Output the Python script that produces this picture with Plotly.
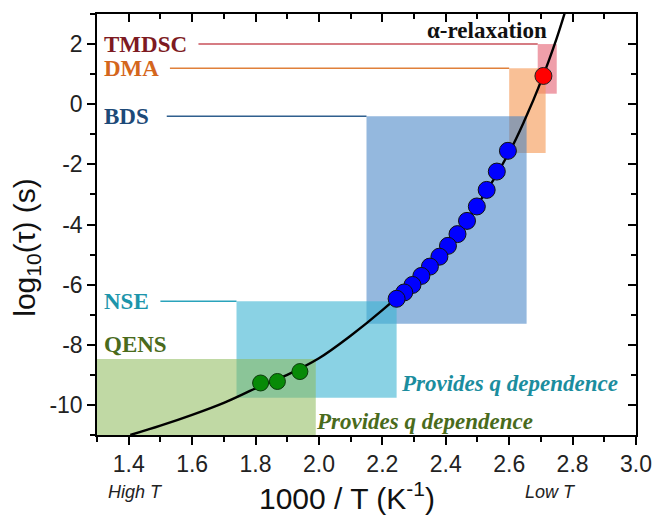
import plotly.graph_objects as go

# ---------------- data ----------------
# measurement windows (1000/T range and log10(tau) range)
techniques = ["TMDSC", "DMA", "BDS", "NSE", "QENS"]
win_x0 = [2.69, 2.60, 2.15, 1.74, 1.30]
win_x1 = [2.75, 2.715, 2.655, 2.245, 1.99]
win_y0 = [0.35, -1.62, -7.3, -9.76, -11.0]
win_y1 = [2.0, 1.2, -0.4, -6.55, -8.47]

# alpha-relaxation data
bds_x = [2.596, 2.561, 2.529, 2.498, 2.467, 2.437, 2.407, 2.380, 2.350, 2.323, 2.295, 2.269, 2.245]
bds_y = [-1.55, -2.24, -2.85, -3.40, -3.88, -4.32, -4.71, -5.07, -5.40, -5.71, -6.01, -6.26, -6.47]
qens_x = [1.816, 1.869, 1.940]
qens_y = [-9.27, -9.22, -8.89]
dma_x = [2.708]
dma_y = [0.94]

# fitted curve
curve_x = [1.405, 1.5, 1.6, 1.7, 1.8, 1.9, 2.0, 2.1, 2.2, 2.3, 2.4, 2.5, 2.6, 2.65, 2.7, 2.75, 2.78]
curve_y = [-11.0, -10.69, -10.33, -9.93, -9.45, -9.0, -8.45, -7.7, -6.85, -5.9, -4.75, -3.35, -1.6, -0.5, 0.75, 2.2, 3.2]

x_ticks = [1.4, 1.6, 1.8, 2.0, 2.2, 2.4, 2.6, 2.8, 3.0]
y_ticks = [2, 0, -2, -4, -6, -8, -10]

# ---------------- styles ----------------
fill_col = {
    "TMDSC": "rgba(225,80,100,0.55)",
    "DMA": "rgba(245,150,80,0.6)",
    "BDS": "rgba(60,125,195,0.55)",
    "NSE": "rgba(60,180,210,0.6)",
    "QENS": "rgba(140,185,90,0.55)",
}
text_col = {
    "TMDSC": "#7d1a22",
    "DMA": "#d4661c",
    "BDS": "#1d4a78",
    "NSE": "#1d95ab",
    "QENS": "#4a6b1c",
}
line_col = {
    "TMDSC": "#c8505a",
    "DMA": "#e0803a",
    "BDS": "#2f5f8e",
    "NSE": "#2aa3bb",
}
leader_start = {"TMDSC": 1.62, "DMA": 1.53, "BDS": 1.52, "NSE": 1.50}
label_yshift = {"TMDSC": 0, "DMA": 0, "BDS": 0, "NSE": 0, "QENS": 14}

serif = "Liberation Serif, Times New Roman, serif"
sans = "Liberation Sans, Arial, sans-serif"

fig = go.Figure()

shapes = []
for name, x0, x1, y0, y1 in zip(techniques, win_x0, win_x1, win_y0, win_y1):
    shapes.append(dict(type="rect", xref="x", yref="y", x0=x0, x1=x1, y0=y0, y1=y1,
                       fillcolor=fill_col[name], line=dict(width=0), layer="below"))
    if name in leader_start:
        shapes.append(dict(type="line", xref="x", yref="y", x0=leader_start[name], x1=x0,
                           y0=y1, y1=y1, line=dict(color=line_col[name], width=1.5), layer="below"))

fig.add_trace(go.Scatter(x=curve_x, y=curve_y, mode="lines", line=dict(color="black", width=2.4, shape="spline"),
                         showlegend=False, hoverinfo="skip"))
fig.add_trace(go.Scatter(x=bds_x, y=bds_y, mode="markers",
                         marker=dict(size=17, color="#0000ff", line=dict(color="#111111", width=1)),
                         showlegend=False))
fig.add_trace(go.Scatter(x=qens_x, y=qens_y, mode="markers",
                         marker=dict(size=16, color="#078a07", line=dict(color="#0b3a0b", width=1)),
                         showlegend=False))
fig.add_trace(go.Scatter(x=dma_x, y=dma_y, mode="markers",
                         marker=dict(size=17, color="#ff0000", line=dict(color="#222222", width=1)),
                         showlegend=False))
# empty trace for mirrored axes (inside ticks on top / right)
fig.add_trace(go.Scatter(x=[], y=[], xaxis="x2", yaxis="y2", showlegend=False))

annotations = []
for name, y1 in zip(techniques, win_y1):
    annotations.append(dict(x=1.315, y=y1, xref="x", yref="y", text="<b>%s</b>" % name, showarrow=False,
                            xanchor="left", yanchor="middle", yshift=label_yshift[name],
                            font=dict(family=serif, size=23, color=text_col[name])))
annotations += [
    dict(x=2.725, y=2.45, xref="x", yref="y", text="<b>α-relaxation</b>", showarrow=False,
         xanchor="right", yanchor="middle", font=dict(family=serif, size=23, color="#111")),
    dict(x=2.95, y=-9.3, xref="x", yref="y", text="<b><i>Provides q dependence</i></b>", showarrow=False,
         xanchor="right", yanchor="middle", font=dict(family=serif, size=23, color="#1b8d9e")),
    dict(x=2.68, y=-10.56, xref="x", yref="y", text="<b><i>Provides q dependence</i></b>", showarrow=False,
         xanchor="right", yanchor="middle", font=dict(family=serif, size=23, color="#4a6b1c")),
    dict(x=1.42, y=-0.135, xref="x", yref="paper", text="<i>High T</i>", showarrow=False,
         xanchor="center", yanchor="middle", font=dict(family=sans, size=18, color="#222")),
    dict(x=2.73, y=-0.135, xref="x", yref="paper", text="<i>Low T</i>", showarrow=False,
         xanchor="center", yanchor="middle", font=dict(family=sans, size=18, color="#222")),
    dict(x=2.087, y=-0.145, xref="x", yref="paper", text="1000 / T (K<sup>-1</sup>)", showarrow=False,
         xanchor="center", yanchor="middle", font=dict(family=sans, size=30, color="#111")),
    dict(x=-0.13, y=0.447, xref="paper", yref="paper", text="log<sub>10</sub>(τ) (s)", showarrow=False,
         textangle=-90, xanchor="center", yanchor="middle", font=dict(family=sans, size=30, color="#111")),
]

axis_common = dict(showline=True, linecolor="black", linewidth=1.5, showgrid=False, zeroline=False,
                   tickcolor="black", tickwidth=1.5, automargin=False)

fig.update_layout(
    width=654, height=518,
    margin=dict(l=97, r=18, t=14, b=83, autoexpand=False),
    paper_bgcolor="white", plot_bgcolor="white",
    shapes=shapes, annotations=annotations,
    xaxis=dict(range=[1.3, 3.0], tickvals=x_ticks, ticktext=["%.1f" % v for v in x_ticks],
               ticks="outside", ticklen=8,
               minor=dict(ticks="outside", ticklen=5, dtick=0.1, tick0=1.3, tickcolor="black", tickwidth=1.5),
               tickfont=dict(family=sans, size=23, color="#222"), **axis_common),
    yaxis=dict(range=[-11, 3], tickvals=y_ticks, ticktext=[str(v) for v in y_ticks],
               ticks="outside", ticklen=8,
               minor=dict(ticks="outside", ticklen=5, dtick=1, tick0=-11, tickcolor="black", tickwidth=1.5),
               tickfont=dict(family=sans, size=23, color="#222"), **axis_common),
    xaxis2=dict(range=[1.3, 3.0], overlaying="x", side="top", tickvals=x_ticks, showticklabels=False,
                ticks="inside", ticklen=8,
                minor=dict(ticks="inside", ticklen=5, dtick=0.1, tick0=1.3, tickcolor="black", tickwidth=1.5),
                **axis_common),
    yaxis2=dict(range=[-11, 3], overlaying="y", side="right", tickvals=y_ticks, showticklabels=False,
                ticks="inside", ticklen=8,
                minor=dict(ticks="inside", ticklen=5, dtick=1, tick0=-11, tickcolor="black", tickwidth=1.5),
                **axis_common),
    showlegend=False,
)

fig.write_html("out.html")
